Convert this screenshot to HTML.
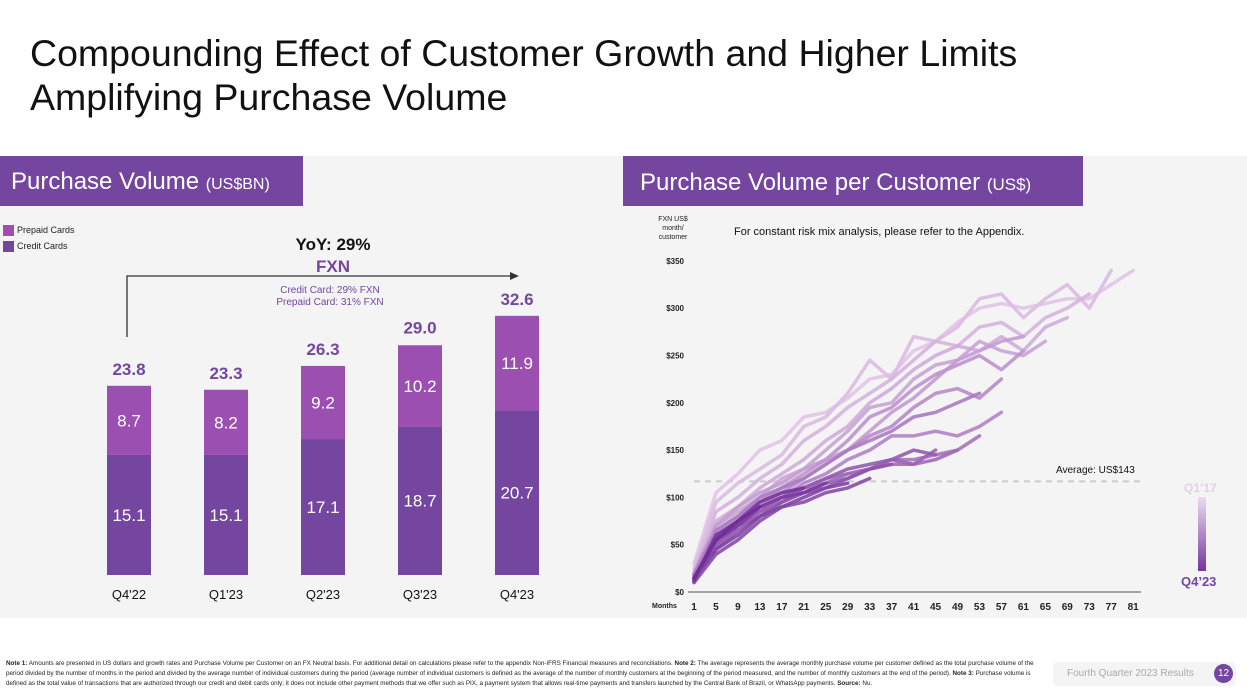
<!DOCTYPE html>
<html><head><meta charset="utf-8"><style>
body{margin:0;width:1247px;height:698px;background:#fff;font-family:"Liberation Sans",sans-serif;position:relative;overflow:hidden}
.abs{position:absolute}
</style></head><body>
<div class="abs" style="left:30px;top:31px;font-size:37.5px;line-height:44px;color:#111">Compounding Effect of Customer Growth and Higher Limits<br>Amplifying Purchase Volume</div>
<div class="abs" style="left:0;top:156px;width:1247px;height:462px;background:#f4f4f4"></div>
<div class="abs" style="left:0;top:156px;width:303px;height:50px;background:#7446a0;color:#fff;font-size:24px;line-height:52px;padding-left:11px;box-sizing:border-box">Purchase Volume <span style="font-size:16px">(US$BN)</span></div>
<div class="abs" style="left:623px;top:156px;width:460px;height:50px;background:#7446a0;color:#fff;font-size:24px;line-height:54px;padding-left:17px;box-sizing:border-box">Purchase Volume per Customer <span style="font-size:17px">(US$)</span></div>

<svg class="abs" style="left:0;top:0" width="1247" height="698">
<g id="left"></g>
<g id="right"></g>
</svg>

<div class="abs" style="left:3px;top:225px;font-size:9px;color:#222"><span style="display:inline-block;width:11px;height:11px;background:#9b4fb0;vertical-align:middle;margin-right:3px"></span>Prepaid Cards</div>
<div class="abs" style="left:3px;top:241px;font-size:9px;color:#222"><span style="display:inline-block;width:11px;height:11px;background:#7446a0;vertical-align:middle;margin-right:3px"></span>Credit Cards</div>
<div class="abs" style="left:233px;top:235px;width:200px;text-align:center;font-size:17px;font-weight:bold;color:#111">YoY: 29%</div>
<div class="abs" style="left:233px;top:257px;width:200px;text-align:center;font-size:17px;font-weight:bold;color:#7446a0">FXN</div>
<div class="abs" style="left:230px;top:285px;width:200px;text-align:center;font-size:10px;line-height:12px;color:#7446a0">Credit Card: 29% FXN<br>Prepaid Card: 31% FXN</div>
<div class="abs" style="left:646px;top:215px;width:54px;text-align:center;font-size:7px;line-height:9px;color:#222">FXN US$<br>month/<br>customer</div>
<div class="abs" style="left:734px;top:226px;font-size:11px;color:#111">For constant risk mix analysis, please refer to the Appendix.</div>
<div class="abs" style="left:1056px;top:465px;font-size:10px;color:#111">Average: US$143</div>
<div class="abs" style="left:1184px;top:481px;font-size:12px;font-weight:bold;color:#e6cfe9">Q1’17</div>
<div class="abs" style="left:1198px;top:497px;width:8px;height:74px;background:linear-gradient(#eddcf0,#7435a0)"></div>
<div class="abs" style="left:1181px;top:574px;font-size:13px;font-weight:bold;color:#7446a0">Q4’23</div>
<div class="abs" style="left:652px;top:603px;font-size:7px;font-weight:bold;color:#222">Months</div>

<div class="abs" style="left:6px;top:659px;width:1042px;font-size:6.3px;line-height:10px;color:#222"><b>Note 1:</b> Amounts are presented in US dollars and growth rates and Purchase Volume per Customer on an FX Neutral basis. For additional detail on calculations please refer to the appendix Non-IFRS Financial measures and reconciliations. <b>Note 2:</b> The average represents the average monthly purchase volume per customer defined as the total purchase volume of the period divided by the number of months in the period and divided by the average number of individual customers during the period (average number of individual customers is defined as the average of the number of monthly customers at the beginning of the period measured, and the number of monthly customers at the end of the period). <b>Note 3:</b> Purchase volume is defined as the total value of transactions that are authorized through our credit and debit cards only; it does not include other payment methods that we offer such as PIX, a payment system that allows real-time payments and transfers launched by the Central Bank of Brazil, or WhatsApp payments. <b>Source:</b> Nu.</div>
<div class="abs" style="left:1053px;top:662px;width:183px;height:24px;background:#f4f4f4;border-radius:4px"></div>
<div class="abs" style="left:1067px;top:668px;font-size:10px;color:#aaa">Fourth Quarter 2023 Results</div>
<div class="abs" style="left:1214px;top:664px;width:19px;height:19px;border-radius:50%;background:#7446a0;color:#fff;font-size:10px;line-height:19px;text-align:center">12</div>

<script>
const quarters=["Q4'22","Q1'23","Q2'23","Q3'23","Q4'23"];
const credit=[15.1,15.1,17.1,18.7,20.7];
const prepaid=[8.7,8.2,9.2,10.2,11.9];
const totals=[23.8,23.3,26.3,29.0,32.6];

const months=[1,5,9,13,17,21,25,29,33,37,41,45,49,53,57,61,65,69,73,77,81];
const s01=[30,105,125,150,160,185,190,205,225,230,255,265,285,300,305,300,305,310,310,325,340];
const s02=[25,95,115,130,145,175,185,210,245,225,270,265,280,310,315,290,310,325,300,340];
const s03=[20,85,100,120,135,160,175,195,210,225,245,265,260,280,285,270,290,300,315];
const s04=[20,75,90,110,125,140,160,175,200,215,235,250,260,255,270,255,280,290];
const s05=[18,70,85,100,120,130,150,170,195,200,225,240,245,265,255,250,265];
const s16=[20,70,90,105,115,130,140,150,170,190,205,225,245,255,265,270];
const s06=[18,65,80,95,110,125,140,160,185,195,215,230,240,250,235,255];
const s07=[15,60,75,90,105,120,135,150,165,175,195,210,215,205,225];
const s08=[15,55,75,90,100,115,125,140,150,165,165,170,165,175,190];
const s17=[18,65,80,100,110,120,135,150,160,170,185,190,200,210];
const s09=[12,50,70,85,95,110,115,125,130,140,140,145,150,165];
const s10=[12,55,75,90,100,110,120,125,130,135,135,140,150];
const s11=[10,50,70,80,95,105,115,120,130,140,135,150];
const s18=[15,50,70,85,100,110,120,130,135,140,150,145];
const s19=[12,45,65,80,95,105,110,120,130,135];
const s12=[10,40,55,75,90,95,105,110,120];
const s13=[15,45,60,80,90,100,110,115];
const s20=[14,55,70,90,100,105,115];
const s14=[12,60,75,95,105,110];
const s15=[15,55,75,90];
const series=[s01,s02,s03,s04,s05,s16,s06,s07,s08,s17,s09,s10,s11,s18,s19,s12,s13,s20,s14,s15];
const yTicks=[0,50,100,150,200,250,300,350];
const xTicks=[1,5,9,13,17,21,25,29,33,37,41,45,49,53,57,61,65,69,73,77,81];
const average=117;

const NS="http://www.w3.org/2000/svg";
function mk(p,t,a){const e=document.createElementNS(NS,t);for(const k in a)e.setAttribute(k,a[k]);p.appendChild(e);return e;}
// bar chart
const L=document.getElementById('left');
const bx=i=>129+i*97, by=v=>575-v*7.95, bw=44;
const arrow=mk(L,'path',{d:'M127 337 V276 H512',fill:'none',stroke:'#333','stroke-width':1.3});


const ah=mk(L,'path',{d:'M510 272 L519 276 L510 280 Z',fill:'#333'});


quarters.forEach((q,i)=>{
  const c=mk(L,'rect',{x:bx(i)-bw/2,y:by(credit[i]),width:bw,height:credit[i]*7.95,fill:'#7446a0'});
  
  
  const p=mk(L,'rect',{x:bx(i)-bw/2,y:by(credit[i]+prepaid[i]),width:bw,height:prepaid[i]*7.95,fill:'#9b4fb0'});
  
  
  const t1=mk(L,'text',{x:bx(i),y:by(credit[i]/2)+6,'text-anchor':'middle','font-size':17,fill:'#fff'});t1.textContent=credit[i].toFixed(1);
  
  
  const t2=mk(L,'text',{x:bx(i),y:by(credit[i]+prepaid[i]/2)+6,'text-anchor':'middle','font-size':17,fill:'#fff'});t2.textContent=prepaid[i].toFixed(1);
  
  
  const t3=mk(L,'text',{x:bx(i),y:by(totals[i])-11,'text-anchor':'middle','font-size':17,'font-weight':'bold',fill:'#7446a0'});t3.textContent=totals[i].toFixed(1);
  
  
  const t4=mk(L,'text',{x:bx(i),y:599,'text-anchor':'middle','font-size':13,fill:'#111'});t4.textContent=q;
  
  
});
// line chart
const R=document.getElementById('right');
const lx=m=>694+(m-1)*5.49, ly=v=>592-v*0.946;
yTicks.forEach(v=>{const t=mk(R,'text',{x:684,y:ly(v)+3,'text-anchor':'end','font-size':8,'font-weight':'bold',fill:'#222'});t.textContent='$'+v;
  
  });
xTicks.forEach(m=>{const t=mk(R,'text',{x:lx(m),y:610,'text-anchor':'middle','font-size':10,'font-weight':'bold',fill:'#222'});t.textContent=m;
  
  });
const ax=mk(R,'line',{x1:688,x2:1141,y1:592,y2:592,stroke:'#555','stroke-width':1});


const av=mk(R,'line',{x1:694,x2:1141,y1:ly(average),y2:ly(average),stroke:'#ccc','stroke-width':2,'stroke-dasharray':'6 5'});


const c0=[226,196,231],c1=[112,44,152];
series.forEach((s,k)=>{
  const f=k/(series.length-1);
  const col='rgb('+c0.map((v,j)=>Math.round(v+(c1[j]-v)*f)).join(',')+')';
  const d=s.map((v,i)=>(i?'L':'M')+lx(months[i]).toFixed(1)+' '+ly(v).toFixed(1)).join(' ');
  const p=mk(R,'path',{d:d,fill:'none',stroke:col,'stroke-width':3.5,'stroke-linejoin':'round','stroke-linecap':'round','stroke-opacity':0.9});
  
  
});
</script>
</body></html>
